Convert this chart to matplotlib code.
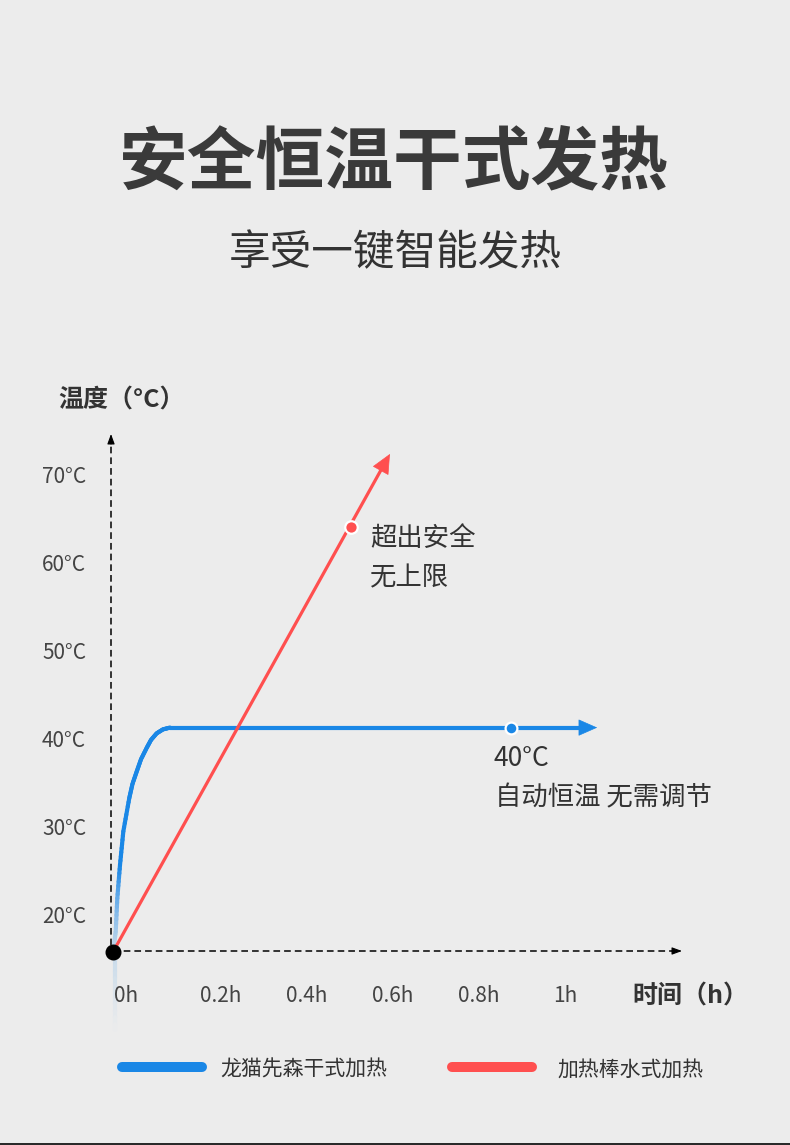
import numpy as np
import matplotlib
matplotlib.use('Agg')
import matplotlib.pyplot as plt
from matplotlib.collections import LineCollection
from matplotlib.colors import to_rgb

plt.rcParams['font.family'] = ['Noto Sans CJK SC', 'DejaVu Sans']
plt.rcParams['lines.scale_dashes'] = False

# ---- data ----
blue_t = [0.0, 0.0063, 0.0100, 0.0163, 0.0240, 0.0379, 0.0453, 0.0551, 0.0651,
          0.0784, 0.0884, 0.1016, 0.1163, 0.1326]
blue_temp = [15.7, 18.0, 21.8, 25.6, 29.4, 33.2, 34.8, 36.2, 37.6,
             38.9, 39.8, 40.55, 41.0, 41.2]
plateau_temp = 41.2
plateau_end = 1.126
blue_dot = (0.925, 41.2)

red_start = (0.0, 15.7)
red_tip = (0.644, 72.3)
red_dot = (0.553, 64.0)

origin = (0.0, 15.7)

ytick_vals = [20, 30, 40, 50, 60, 70]
ytick_labels = ['20°C', '30°C', '40°C', '50°C', '60°C', '70°C']
xtick_labels = ['0h', '0.2h', '0.4h', '0.6h', '0.8h', '1h']
xtick_pos = [0.03, 0.251, 0.451, 0.651, 0.851, 1.051]

legend_names = ['龙猫先森干式加热', '加热棒水式加热']

BLUE = '#1a87e6'
RED = '#ff4f4f'
BG = '#ececec'
TXT = '#333333'

# pixel -> data helpers (layout only)
SX = 430.0   # px per hour
SY = 8.8     # px per degree
def dx(px):
    return (px - 113) / SX
def dy(py):
    return 15.7 + (952 - py) / SY

fig = plt.figure(figsize=(7.9, 11.45), dpi=100, facecolor=BG)
ax = fig.add_axes([0, 0, 1, 1])
ax.set_facecolor(BG)
ax.set_xlim(dx(0), dx(790))
ax.set_ylim(dy(1145), dy(0))
ax.axis('off')

# titles
fig.text(394 / 790, 1 - 164 / 1145, '安全恒温干式发热', fontsize=49.5, fontweight='bold',
         color='#3a3a3a', ha='center', va='center')
fig.text(395 / 790, 1 - 254 / 1145, '享受一键智能发热', fontsize=30,
         color=TXT, ha='center', va='center')

# axes (dashed with small arrow heads)
ax.plot([dx(111), dx(111)], [dy(956), dy(440)], color='black', lw=1.1,
        dashes=(4.8, 2.9))
ax.annotate('', xy=(dx(111), dy(434)), xytext=(dx(111), dy(444)),
            arrowprops=dict(arrowstyle='-|>,head_length=0.6,head_width=0.22',
                            color='black', lw=0.8, shrinkA=0, shrinkB=0))
ax.plot([dx(113), dx(676)], [dy(951), dy(951)], color='black', lw=1.1,
        dashes=(4.8, 2.9))
ax.annotate('', xy=(dx(682), dy(951)), xytext=(dx(672), dy(951)),
            arrowprops=dict(arrowstyle='-|>,head_length=0.6,head_width=0.22',
                            color='black', lw=0.8, shrinkA=0, shrinkB=0))

# tick labels
for v, lab in zip(ytick_vals, ytick_labels):
    ax.text(dx(42), v - 3 / SY, lab, fontsize=15, color='#444444', ha='left',
            va='center', fontweight='light', zorder=8)
for p, lab in zip(xtick_pos, xtick_labels):
    ax.text(p, dy(996), lab, fontsize=15, color='#444444', ha='center', va='center',
            fontweight='light', zorder=8)

ax.text(dx(58), dy(401), '温度（°C）', fontsize=18, fontweight='bold', color=TXT,
        ha='left', va='center')
ax.text(dx(632), dy(997), '时间（h）', fontsize=18, fontweight='bold', color=TXT,
        ha='left', va='center')

# blue curve with fade near origin (blend with background)
bg = np.array(to_rgb(BG))
bl = np.array(to_rgb(BLUE))
segs, cols = [], []
for i in range(len(blue_t) - 1):
    for k in range(8):
        a0, a1 = k / 8, (k + 1) / 8
        x0 = blue_t[i] + (blue_t[i + 1] - blue_t[i]) * a0
        x1 = blue_t[i] + (blue_t[i + 1] - blue_t[i]) * a1
        y0 = blue_temp[i] + (blue_temp[i + 1] - blue_temp[i]) * a0
        y1 = blue_temp[i] + (blue_temp[i + 1] - blue_temp[i]) * a1
        ym = (y0 + y1) / 2
        a = min(1.0, 0.2 + 0.8 * max(0.0, (ym - 15.7) / (25.6 - 15.7)) ** 1.3)
        segs.append([(x0, y0), (x1, y1)])
        cols.append(bg * (1 - a) + bl * a)
# faint tail below the origin
for k in range(12):
    y0 = dy(952 + k * 6.5)
    y1 = dy(952 + (k + 1) * 6.5)
    a = 0.18 * (1 - (k + 0.5) / 12)
    segs.append([(dx(115), y0), (dx(115), y1)])
    cols.append(bg * (1 - a) + bl * a)
ax.add_collection(LineCollection(segs, colors=cols, linewidths=3.0, capstyle='round',
                                 zorder=3))
ax.plot([blue_t[-1], plateau_end - 0.03], [plateau_temp, plateau_temp], color=BLUE,
        lw=3.0, solid_capstyle='round', zorder=3)
ax.annotate('', xy=(plateau_end, plateau_temp), xytext=(plateau_end - 0.05, plateau_temp),
            arrowprops=dict(arrowstyle='-|>,head_length=1.25,head_width=0.55',
                            color=BLUE, lw=0.5, shrinkA=0, shrinkB=0), zorder=3)

# red line
ux = red_tip[0] - red_start[0]
uy = red_tip[1] - red_start[1]
ax.plot([red_start[0], red_start[0] + ux * 0.975], [red_start[1], red_start[1] + uy * 0.975],
        color=RED, lw=2.3, solid_capstyle='butt', zorder=4)
ax.annotate('', xy=red_tip, xytext=(red_start[0] + ux * 0.95, red_start[1] + uy * 0.95),
            arrowprops=dict(arrowstyle='-|>,head_length=1.3,head_width=0.6',
                            color=RED, lw=0.5, shrinkA=0, shrinkB=0), zorder=4)

# dots
ax.plot(*origin, 'o', color='black', ms=10.5, zorder=6)
ax.plot(*blue_dot, 'o', color=BLUE, ms=8.5, mec='white', mew=1.6, zorder=6)
ax.plot(*red_dot, 'o', color=RED, ms=9, mec='white', mew=1.6, zorder=6)

# annotations
ax.text(dx(370), dy(538), '超出安全', fontsize=19, color=TXT, ha='left', va='center')
ax.text(dx(370), dy(578), '无上限', fontsize=19, color=TXT, ha='left', va='center')
ax.text(dx(493), dy(759), '40°C', fontsize=19, color=TXT, ha='left', va='center')
ax.text(dx(495), dy(798), '自动恒温 无需调节', fontsize=19, color=TXT, ha='left', va='center')

# legend
ax.plot([dx(122), dx(202)], [dy(1067), dy(1067)], color=BLUE, lw=7.2,
        solid_capstyle='round')
ax.text(dx(220), dy(1070), legend_names[0], fontsize=15, color=TXT, ha='left', va='center')
ax.plot([dx(452), dx(532)], [dy(1067), dy(1067)], color=RED, lw=7.2,
        solid_capstyle='round')
ax.text(dx(557), dy(1070), legend_names[1], fontsize=15, color=TXT, ha='left', va='center')

# thin dark strip at the bottom edge
fig.add_artist(plt.Rectangle((0, 0), 1, 2 / 1145, transform=fig.transFigure,
                             color='#2a2a2a', lw=0))

fig.savefig('out.png', dpi=100, facecolor=BG)
